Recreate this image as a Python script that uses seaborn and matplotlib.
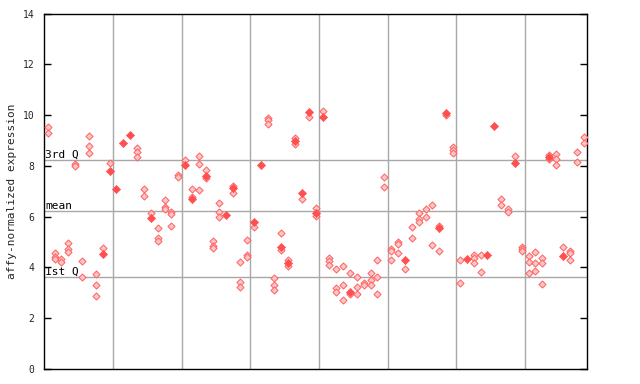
import matplotlib
matplotlib.use("Agg")
import matplotlib.pyplot as plt
import seaborn as sns
import pandas as pd

# replicate values per sample (hollow/checkered diamonds)
rep_values = [
    [9.52, 9.28], [4.55, 4.43, 4.32], [4.33, 4.20], [4.95, 4.71, 4.62], [8.06, 7.99],
    [4.24, 3.61], [9.18, 8.78, 8.49], [3.74, 3.30, 2.86], [4.76], [8.11],
    [], [], [], [8.70, 8.55, 8.36], [7.08, 6.80],
    [6.13], [5.54, 5.15, 5.05], [6.66, 6.39, 6.30], [6.20, 6.09, 5.62], [7.64, 7.55],
    [8.23], [7.08, 6.76], [8.37, 8.06, 7.04], [7.84, 7.53], [5.05, 4.86, 4.77],
    [6.53, 6.17, 6.00], [], [7.21, 6.92], [4.20, 3.44, 3.23], [5.08, 4.48, 4.41],
    [5.58], [], [9.90, 9.80, 9.63], [3.57, 3.30, 3.12], [5.34, 4.70],
    [4.29, 4.06], [9.09, 8.85], [6.68], [9.91], [6.33, 6.04],
    [10.16], [4.38, 4.25, 4.10], [3.93, 3.18, 3.02], [4.06, 3.29, 2.70], [3.78, 2.94],
    [3.62, 3.22, 2.95], [3.40, 3.30], [3.77, 3.51, 3.30], [4.31, 3.61, 2.94], [7.55, 7.15],
    [4.73, 4.63, 4.31], [5.01, 4.92, 4.58], [3.93], [5.58, 5.15], [6.13, 5.89, 5.79],
    [6.30, 5.97], [6.45, 4.87], [5.65, 4.63], [9.99], [8.73, 8.63, 8.52],
    [4.28, 3.37], [], [4.48, 4.38, 4.16], [4.49, 3.83], [],
    [], [6.68, 6.45], [6.30, 6.17], [8.38], [4.82, 4.73, 4.63],
    [4.46, 4.22, 3.77], [4.59, 4.19, 3.85], [4.37, 4.16, 3.33], [8.41, 8.27], [8.47, 8.28, 8.02],
    [4.80], [4.66, 4.55, 4.31], [8.53, 8.15], [9.13, 8.89],
]

# solid diamonds: (sample index, value)
filled_idx = [8, 9, 10, 11, 12, 15, 20, 21, 23, 26, 27, 30, 31, 34, 35, 36, 37, 38, 39, 40,
              44, 52, 57, 58, 61, 64, 65, 68, 73, 75]
filled_val = [4.54, 7.81, 7.10, 8.89, 9.23, 5.93, 8.05, 6.68, 7.62, 6.07, 7.11, 5.80, 8.03,
              4.80, 4.18, 8.97, 6.92, 10.14, 6.13, 9.91, 3.03, 4.29, 5.55, 10.09, 4.35,
              4.49, 9.58, 8.13, 8.34, 4.46]

q_labels = ["3rd Q", "mean", "1st Q"]
q_values = [8.22, 6.22, 3.62]
y_ticks = [0, 2, 4, 6, 8, 10, 12, 14]
group_lines = [10, 20, 30, 40, 50, 60, 70]
n_samples = len(rep_values)

rows = []
for i, vals in enumerate(rep_values):
    for v in vals:
        rows.append({"x": i + 0.5, "y": v})
df_rep = pd.DataFrame(rows)
df_fill = pd.DataFrame({"x": [i + 0.5 for i in filled_idx], "y": filled_val})

sns.set_style("white")
plt.rcParams["font.family"] = ["DejaVu Sans Mono"]

fig = plt.figure(figsize=(6.4, 3.84), dpi=100)
ax = fig.add_axes([44.3 / 640, 15 / 384, (587 - 44.3) / 640, (369 - 13.5) / 384])

red = "#ff4f4f"
for x in group_lines:
    ax.axvline(x, color="#a8a8a8", lw=1, zorder=1)
for v in q_values:
    ax.axhline(v, color="#a8a8a8", lw=1, zorder=1)

sns.scatterplot(data=df_rep, x="x", y="y", ax=ax, marker="D", s=13,
                color="#ffc4c4", edgecolor="#ff6060", linewidth=0.7, zorder=3)
sns.scatterplot(data=df_fill, x="x", y="y", ax=ax, marker="D", s=17,
                color=red, edgecolor=red, linewidth=0.5, zorder=4)

for lab, v in zip(q_labels, q_values):
    ax.text(0.15, v + 0.02, lab, fontsize=8, va="bottom", ha="left", color="black", zorder=5)

ax.set_xlim(0, n_samples)
ax.set_ylim(0, 14)
ax.set_yticks(y_ticks)
ax.set_yticklabels([str(t) for t in y_ticks], fontsize=7)
ax.set_xticks([])
ax.set_xlabel("")
ax.set_ylabel("affy-normalized expression", fontsize=8, labelpad=4)
ax.tick_params(axis="y", direction="in", length=5, width=1, right=True, left=True,
               labelleft=True, pad=7, color="black")
for sp in ax.spines.values():
    sp.set_visible(True)
    sp.set_color("black")
    sp.set_linewidth(1)

fig.savefig("out.png", dpi=100)
